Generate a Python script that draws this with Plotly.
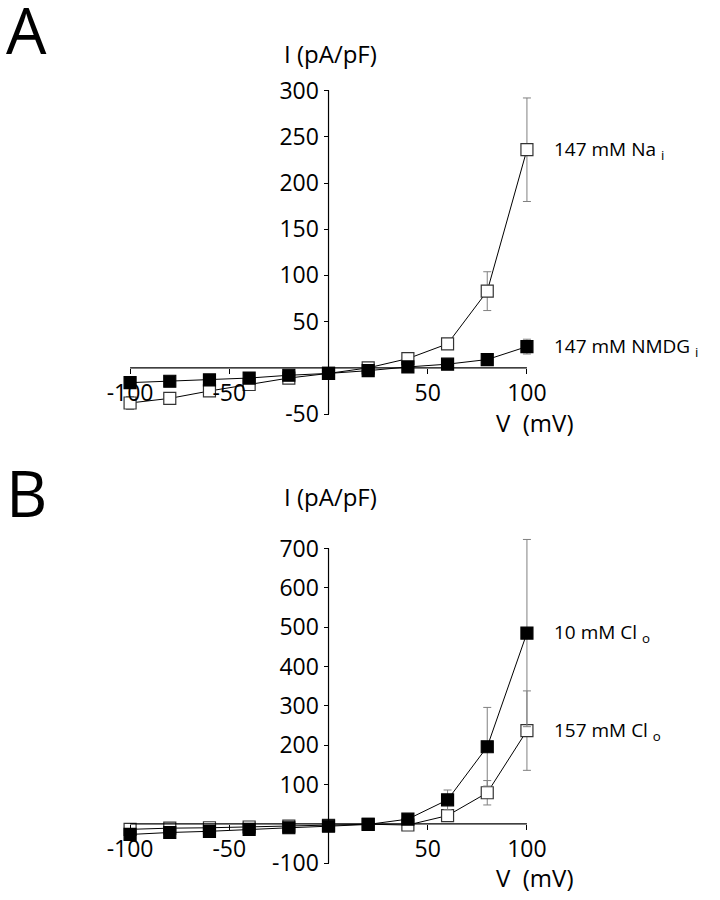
import plotly.graph_objects as go

# ---------------- data ----------------
voltage = [-100, -80, -60, -40, -20, 0, 20, 40, 60, 80, 100]

na_i = [-38, -33, -25, -18, -11, -6, 0, 10, 26, 83, 236]
na_i_err = [7, 5, 4, 4, 3, 2, 3, 4, 3, 21, 56]
nmdg_i = [-16, -14.5, -13, -11, -8, -6, -3, 1, 4, 9, 23]
nmdg_i_err = [3, 3, 3, 3, 3, 2, 2, 2, 2, 3, 8]

cl10_o = [-27, -22, -19, -14, -10, -6, -1.5, 12, 61, 196, 485]
cl10_o_err = [5, 5, 5, 5, 4, 4, 3, 8, 25, 100, 238]
cl157_o = [-14, -11, -10, -8, -6, -4, -1, -3, 21, 79, 237]
cl157_o_err = [6, 6, 6, 5, 5, 4, 3, 6, 9, 31, 101]

xticks = [-100, -50, 50, 100]
yticks_a = [-50, 50, 100, 150, 200, 250, 300]
yticks_b = [-100, 100, 200, 300, 400, 500, 600, 700]

NB = "\u00a0"
labels_a = ["147 mM Na" + NB + "<sub>i</sub>", "147 mM NMDG" + NB + "<sub>i</sub>"]
labels_b = ["10 mM Cl" + NB + "<sub>o</sub>", "157 mM Cl" + NB + "<sub>o</sub>"]
y_title = "I" + NB + "(pA/pF)"
x_title = "V" + NB + NB + "(mV)"

# ---------------- layout geometry (pixels) ----------------
W, H = 720, 900
FONT = "Open Sans"
X0, XS = 326.5, 2.015          # pixel of V=0, px per mV
XR = [-108, 108]
Y0A, YSA, YRA = 368.0, 0.94, [-62, 312]
Y0B, YSB, YRB = 831.7, 0.40, [-115, 740]


def px(xp):
    return xp / W


def py(yp):
    return 1 - yp / H


x_dom = [px(X0 + XR[0] * XS), px(X0 + XR[1] * XS)]
ya_dom = [py(Y0A - YRA[0] * YSA), py(Y0A - YRA[1] * YSA)]
yb_dom = [py(Y0B - YRB[0] * YSB), py(Y0B - YRB[1] * YSB)]

fig = go.Figure()


def add_series(x, y, err, filled, xa, ya):
    marker = dict(symbol="square", size=12,
                  color="black" if filled else "white",
                  line=dict(color="black" if filled else "#333", width=1.2))
    fig.add_trace(go.Scatter(
        x=x, y=y, mode="lines+markers", xaxis=xa, yaxis=ya,
        line=dict(color="black", width=1), marker=marker,
        error_y=dict(type="data", array=err, color="#808080", thickness=1, width=4),
        cliponaxis=False, showlegend=False))


add_series(voltage, na_i, na_i_err, False, "x", "y")
add_series(voltage, nmdg_i, nmdg_i_err, True, "x", "y")
add_series(voltage, cl157_o, cl157_o_err, False, "x2", "y2")
add_series(voltage, cl10_o, cl10_o_err, True, "x2", "y2")

tickfont = dict(family=FONT, size=23, color="black")
axis_common = dict(showgrid=False, zeroline=False, showline=False, ticks="outside",
                   ticklen=5, tickcolor="black", tickwidth=1, tickfont=tickfont,
                   anchor="free", fixedrange=True)

fig.update_layout(
    width=W, height=H, margin=dict(l=0, r=0, t=0, b=0),
    paper_bgcolor="white", plot_bgcolor="white",
    xaxis=dict(axis_common, range=XR, domain=x_dom, position=py(Y0A),
               tickvals=xticks, ticktext=[str(v) for v in xticks]),
    yaxis=dict(axis_common, range=YRA, domain=ya_dom, position=px(X0),
               tickvals=yticks_a, ticktext=[str(v) for v in yticks_a]),
    xaxis2=dict(axis_common, range=XR, domain=x_dom, position=py(Y0B),
                tickvals=xticks, ticktext=[str(v) for v in xticks]),
    yaxis2=dict(axis_common, range=YRB, domain=yb_dom, position=px(X0),
                tickvals=yticks_b, ticktext=[str(v) for v in yticks_b]),
)

line_style = dict(color="black", width=1.2)
shapes = [
    dict(type="line", xref="x", yref="y", x0=xticks[0], x1=xticks[-1], y0=0, y1=0, line=line_style),
    dict(type="line", xref="x", yref="y", x0=0, x1=0, y0=yticks_a[0], y1=yticks_a[-1], line=line_style),
    dict(type="line", xref="x2", yref="y2", x0=xticks[0], x1=xticks[-1], y0=0, y1=0, line=line_style),
    dict(type="line", xref="x2", yref="y2", x0=0, x1=0, y0=yticks_b[0], y1=yticks_b[-1], line=line_style),
]
fig.update_layout(shapes=shapes)

ann = []
# panel letters
letter_font = dict(family=FONT, size=64, color="black")
ann.append(dict(text="A", x=px(-3), y=py(-22), xref="paper", yref="paper", xanchor="left",
                yanchor="top", showarrow=False, font=letter_font))
ann.append(dict(text="B", x=px(-3), y=py(448), xref="paper", yref="paper", xanchor="left",
                yanchor="top", showarrow=False, font=letter_font))
# axis titles
title_font = dict(family=FONT, size=24, color="black")
for yp in (48, 499):
    ann.append(dict(text=y_title, x=px(329), y=py(yp), xref="paper", yref="paper",
                    xanchor="center", yanchor="middle", showarrow=False, font=title_font))
for yp in (424, 886):
    ann.append(dict(text=x_title, x=px(536), y=py(yp), xref="paper", yref="paper",
                    xanchor="center", yanchor="middle", showarrow=False, font=title_font))
# series labels
lab_font = dict(family=FONT, size=19, color="black")
for txt, yv in zip(labels_a, [na_i[-1], nmdg_i[-1]]):
    ann.append(dict(text=txt, x=voltage[-1], y=yv, xref="x", yref="y", xanchor="left",
                    yanchor="middle", xshift=25, showarrow=False, font=lab_font))
for txt, yv in zip(labels_b, [cl10_o[-1], cl157_o[-1]]):
    ann.append(dict(text=txt, x=voltage[-1], y=yv, xref="x2", yref="y2", xanchor="left",
                    yanchor="middle", xshift=25, showarrow=False, font=lab_font))
fig.update_layout(annotations=ann)

fig.write_html("out.html", config={"displayModeBar": False},
               post_script="document.body.style.margin='0';")
